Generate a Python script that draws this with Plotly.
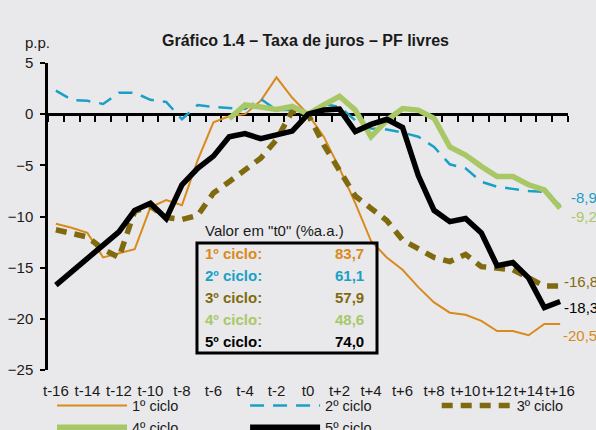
import plotly.graph_objects as go

# ---- data ----
t_index = list(range(-16, 17))
tick_positions = list(range(-16, 17, 2))
tick_labels = ["t-16", "t-14", "t-12", "t-10", "t-8", "t-6", "t-4", "t-2", "t0",
               "t+2", "t+4", "t+6", "t+8", "t+10", "t+12", "t+14", "t+16"]

ciclo1 = [-10.7, -11.1, -11.6, -14.0, -13.6, -13.2, -9.1, -8.4, -8.9, -4.5, -0.8, -0.2, 0.0,
          1.3, 3.6, 1.6, 0.0, -2.2, -5.3, -8.7, -12.4, -14.0, -15.2, -16.9, -18.4, -19.4,
          -19.6, -20.2, -21.2, -21.2, -21.6, -20.5, -20.5]
ciclo2 = [2.3, 1.4, 1.3, 1.0, 2.1, 2.1, 1.4, 1.2, -0.5, 0.9, 0.7, 0.6, 0.5, 1.5, 0.4, 0.4,
          0.0, 1.0, 0.7, -0.6, -1.4, -1.5, -1.8, -2.2, -3.2, -4.9, -5.3, -6.6, -7.1, -7.3,
          -7.5, -7.6, -8.9]
ciclo3 = [-11.3, -11.6, -12.0, -13.2, -14.0, -9.5, -9.0, -10.1, -10.3, -9.9, -7.7, -6.6,
          -5.5, -4.3, -2.5, 0.3, 0.0, -3.0, -5.5, -8.0, -9.2, -10.4, -12.3, -13.2, -14.0,
          -14.4, -13.7, -14.9, -15.1, -15.2, -16.0, -16.8, -16.8]
ciclo4 = [None] * 11 + [-0.45, 0.9, 0.7, 0.45, 0.75, 0.0, 0.9, 1.75, 0.4, -2.2, -0.6, 0.55,
                        0.4, -0.4, -3.2, -4.0, -5.1, -6.1, -6.1, -6.9, -7.4, -9.2]
ciclo5 = [-16.7, -15.4, -14.1, -12.8, -11.5, -9.4, -8.7, -10.2, -6.9, -5.3, -4.1, -2.2,
          -1.9, -2.4, -2.0, -1.65, 0.0, 0.4, 0.5, -1.7, -1.0, -0.5, -1.3, -6.0, -9.4,
          -10.5, -10.2, -11.6, -14.8, -14.5, -16.0, -18.9, -18.3]

series_names = ["1º ciclo", "2º ciclo", "3º ciclo", "4º ciclo", "5º ciclo"]
series_values = [ciclo1, ciclo2, ciclo3, ciclo4, ciclo5]
t0_values = ["83,7", "61,1", "57,9", "48,6", "74,0"]
end_labels = ["-20,5", "-8,9", "-16,8", "-9,2", "-18,3"]

# ---- styles ----
colors = ["#D98A1C", "#1AA0C6", "#806A10", "#A8C868", "#000000"]
widths = [2, 2.5, 5.5, 5.5, 5.5]
dashes = ["solid", "14px,9px", "11px,8px", "solid", "solid"]
legend_ids = ["legend", "legend2", "legend3", "legend", "legend2"]
end_shift = [(1, -12), (9, 8), (2, 5), (9, -8), (2, -6)]

FONT = "Liberation Sans, Arial, sans-serif"

fig = go.Figure()
for name, vals, c, w, d, lg in zip(series_names, series_values, colors, widths, dashes, legend_ids):
    fig.add_trace(go.Scatter(x=t_index, y=vals, name=name, mode="lines",
                             line=dict(color=c, width=w, dash=d),
                             legend=lg, hoverinfo="skip"))

# dummy trace for the label axis
fig.add_trace(go.Scatter(x=t_index, y=[None] * len(t_index), xaxis="x2",
                         showlegend=False, hoverinfo="skip"))

# end-of-series labels
for vals, lab, c, (dx, dy) in zip(series_values, end_labels, colors, end_shift):
    fig.add_annotation(x=t_index[-1], y=vals[-1], xref="x", yref="y", text=lab,
                       showarrow=False, xanchor="left", yanchor="middle",
                       xshift=dx, yshift=dy, font=dict(family=FONT, size=15, color=c))

# box with t0 values
fig.add_shape(type="rect", xref="paper", yref="paper", x0=0.2865, x1=0.6327,
              y0=0.0554, y1=0.4137, line=dict(color="black", width=3),
              fillcolor="rgba(0,0,0,0)")
fig.add_annotation(xref="paper", yref="paper", x=0.298, y=0.456, text='Valor em "t0" (%a.a.)',
                   showarrow=False, xanchor="left", yanchor="middle",
                   font=dict(family=FONT, size=15, color="#1a1a1a"))
row_top, row_step = 0.3779, 0.0709
for i, (name, v, c) in enumerate(zip(series_names, t0_values, colors)):
    yy = row_top - i * row_step
    fig.add_annotation(xref="paper", yref="paper", x=0.298, y=yy, text="<b>" + name + ":</b>",
                       showarrow=False, xanchor="left", yanchor="middle",
                       font=dict(family=FONT, size=15, color=c))
    fig.add_annotation(xref="paper", yref="paper", x=0.6115, y=yy, text="<b>" + v + "</b>",
                       showarrow=False, xanchor="right", yanchor="middle",
                       font=dict(family=FONT, size=15, color=c))

# p.p.
fig.add_annotation(xref="paper", yref="paper", x=-0.048, y=1.068, text="p.p.",
                   showarrow=False, xanchor="left", yanchor="middle",
                   font=dict(family=FONT, size=15, color="#1a1a1a"))

legend_common = dict(orientation="v", xanchor="left", yanchor="top", y=-0.0635,
                     bgcolor="rgba(0,0,0,0)", itemwidth=70, tracegroupgap=0,
                     font=dict(family=FONT, size=14.5, color="#1a1a1a"))

fig.update_layout(
    width=596, height=430,
    margin=dict(l=48, r=28, t=63, b=60, autoexpand=False),
    paper_bgcolor="#E9E9EB", plot_bgcolor="#E9E9EB",
    title=dict(text="<b>Gráfico 1.4 – Taxa de juros – PF livres</b>",
               x=0.5126, xref="container", xanchor="center",
               y=1 - 40 / 430, yref="container", yanchor="middle",
               font=dict(family=FONT, size=16, color="#1a1a1a")),
    font=dict(family=FONT, size=15, color="#1a1a1a"),
    xaxis=dict(range=[-16.5, 16.5], anchor="free", position=25 / 30,
               tickmode="linear", tick0=-16.5, dtick=1,
               ticks="outside", ticklen=6, tickwidth=2, tickcolor="black",
               showline=True, linecolor="black", linewidth=2.5,
               showticklabels=False, showgrid=False, zeroline=False,
               layer="below traces", fixedrange=True),
    xaxis2=dict(range=[-16.5, 16.5], overlaying="x", anchor="y", side="bottom",
                tickmode="array", tickvals=tick_positions, ticktext=tick_labels,
                tickangle=0, ticks="", showline=False, showgrid=False, zeroline=False,
                ticklabelstandoff=10,
                tickfont=dict(family=FONT, size=15, color="#1a1a1a")),
    yaxis=dict(range=[-25, 5], dtick=5, tick0=0, anchor="x2",
               ticks="outside", ticklen=5, tickwidth=2, tickcolor="black",
               showline=True, linecolor="black", linewidth=2.5,
               showgrid=False, zeroline=False, ticklabelstandoff=4,
               tickfont=dict(family=FONT, size=15, color="#1a1a1a")),
    legend=dict(x=0.0077, **legend_common),
    legend2=dict(x=0.379, **legend_common),
    legend3=dict(x=0.7475, **legend_common),
    showlegend=True,
)

fig.write_html("out.html", config={"displayModeBar": False},
               post_script="document.body.style.margin='0';")
